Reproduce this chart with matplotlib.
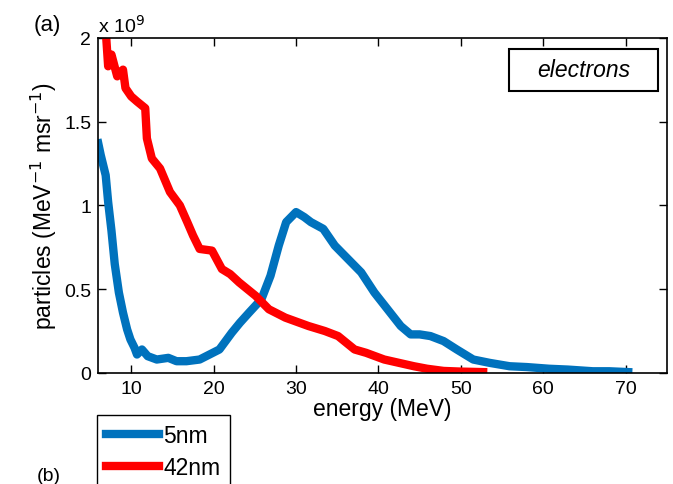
import matplotlib
matplotlib.use("Agg")
import matplotlib.pyplot as plt
from matplotlib.patches import Rectangle

plt.rcParams['font.family'] = ['Liberation Sans', 'DejaVu Sans']

# spectra (particles per MeV per msr, in units of 1e9)
energy_5nm = [6.0, 6.3, 6.9, 7.2, 7.6, 8.0, 8.5, 9.0, 9.5, 9.9, 10.4, 10.7, 11.3, 12.0, 13.1,
              14.5, 15.5, 16.7, 18.3, 19.5, 20.7, 22.2, 23.2, 24.3, 25.8, 26.9, 27.9, 28.8,
              30.0, 31.0, 31.8, 33.3, 34.7, 36.3, 37.9, 39.5, 41.1, 42.7, 43.9, 45.0, 46.3,
              47.9, 49.5, 51.5, 53.5, 55.9, 58.0, 60.7, 63.0, 66.0, 68.0, 70.3]
counts_5nm = [1.37, 1.30, 1.18, 1.02, 0.85, 0.65, 0.48, 0.36, 0.26, 0.20, 0.15, 0.11, 0.14, 0.10, 0.08,
              0.09, 0.07, 0.07, 0.08, 0.11, 0.14, 0.24, 0.30, 0.36, 0.44, 0.58, 0.76, 0.90,
              0.96, 0.93, 0.90, 0.86, 0.76, 0.68, 0.60, 0.48, 0.38, 0.28, 0.23, 0.23, 0.22,
              0.19, 0.14, 0.08, 0.06, 0.04, 0.035, 0.025, 0.02, 0.01, 0.01, 0.005]

energy_42nm = [6.9, 7.2, 7.6, 8.3, 9.0, 9.3, 10.0, 10.7, 11.7, 11.9, 12.5, 13.5, 14.7, 15.9,
               16.8, 17.5, 18.3, 19.8, 21.0, 22.0, 23.1, 25.1, 26.7, 28.7, 31.5, 33.5, 35.1,
               37.1, 38.5, 40.7, 42.5, 44.3, 45.9, 47.9, 50.0, 52.7]
counts_42nm = [2.05, 1.83, 1.90, 1.77, 1.81, 1.70, 1.65, 1.62, 1.58, 1.40, 1.28, 1.22, 1.08, 1.00,
               0.90, 0.82, 0.74, 0.73, 0.62, 0.59, 0.54, 0.46, 0.38, 0.33, 0.28, 0.25, 0.22,
               0.14, 0.12, 0.08, 0.06, 0.04, 0.025, 0.012, 0.008, 0.005]

fig = plt.figure(figsize=(6.73, 4.85), dpi=100)
ax = fig.add_axes([0.146, 0.229, 0.845, 0.691])

ax.plot(energy_5nm, counts_5nm, color='#0072BD', linewidth=6, label='5nm')
ax.plot(energy_42nm, counts_42nm, color='#FF0000', linewidth=6, label='42nm')

ax.set_xlim(6, 75)
ax.set_ylim(0, 2)
ax.set_xticks([10, 20, 30, 40, 50, 60, 70])
ax.set_yticks([0, 0.5, 1, 1.5, 2])
ax.set_yticklabels(['0', '0.5', '1', '1.5', '2'])
ax.tick_params(direction='in', top=True, right=True, labelsize=14, length=6, width=1, pad=5)
for s in ax.spines.values():
    s.set_linewidth(1.2)

ax.set_xlabel('energy (MeV)', fontsize=16.5, labelpad=0)
ax.set_ylabel('particles (MeV$^{-1}$ msr$^{-1}$)', fontsize=16.5, labelpad=4)

ax.text(0.0, 1.005, 'x 10$^9$', transform=ax.transAxes, fontsize=14, ha='left', va='bottom')
fig.text(0.07, 0.948, '(a)', fontsize=16, ha='center', va='center')
fig.text(0.055, 0.0, '(b)', fontsize=14, ha='left', va='bottom')

# label box in the upper right corner
ax.add_patch(Rectangle((0.722, 0.842), 0.262, 0.125, transform=ax.transAxes,
                       facecolor='white', edgecolor='black', linewidth=1.5, zorder=5))
ax.text(0.853, 0.904, 'electrons', transform=ax.transAxes, fontsize=16.5, style='italic',
        ha='center', va='center', zorder=6)

fig.legend(loc='upper left', bbox_to_anchor=(97 / 673, 1 - 416 / 485), borderaxespad=0,
           fontsize=16.5, frameon=True, fancybox=False, edgecolor='black', framealpha=1,
           handlelength=2.3, borderpad=0.4, labelspacing=0.4, handletextpad=0.2)

fig.savefig('out.png', dpi=100)
